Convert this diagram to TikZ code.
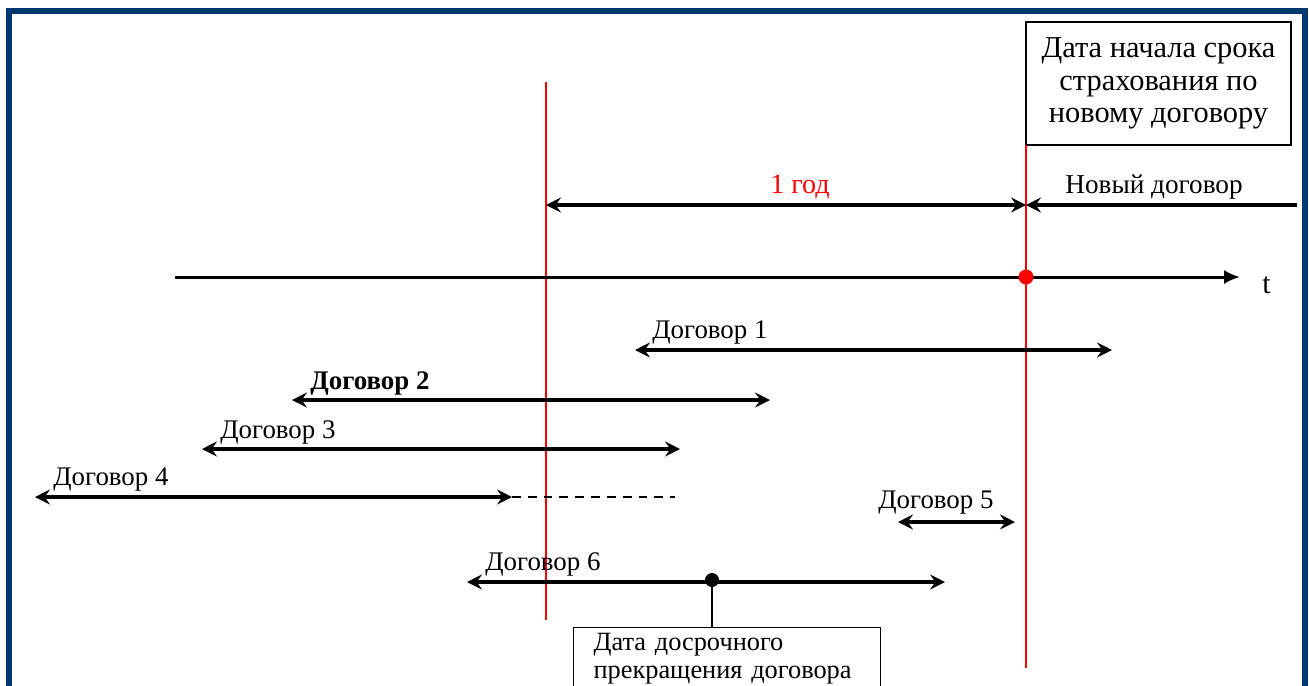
\documentclass[tikz,border=0pt]{standalone}
\usepackage{fontspec}
\setmainfont{Liberation Serif}
\usetikzlibrary{arrows.meta}
\definecolor{ramka}{RGB}{0,56,112}
\tikzset{
  nak/.tip={Stealth[length=8.5pt,width=8.5pt,inset=3pt]},
  dvup/.style={nak-nak,line width=1.9pt},
  odin/.style={-nak,line width=1.9pt},
  metka/.style={anchor=base west,inner sep=0pt,font=\fontsize{15.3}{18}\selectfont},
  granica/.style={red,line width=1.1pt}
}
\begin{document}
\begin{tikzpicture}[font=\fontsize{15.5}{18}\selectfont]
  \useasboundingbox (0,0) rectangle (26.18,-13.7);
  \draw[ramka,line width=3.4pt] (0.18,-0.22) rectangle (26.1,-14.5);

  % ramki s podpisyami
  \node[draw,line width=0.9pt,minimum width=5.3cm,minimum height=2.46cm,align=center,
    font=\fontsize{17.3}{18.4}\selectfont] (nachalo) at (23.17,-1.67)
    {Дата начала срока\\страхования по\\новому договору};
  \node[draw,line width=0.6pt,anchor=north west,minimum width=6.14cm,
    text width=5.34cm,align=left,inner xsep=0.4cm,inner ysep=3.5pt,
    font=\fontsize{15}{15.4}\selectfont] (dosr) at (11.46,-12.54)
    {Дата досрочного\\прекращения договора\\\mbox{}};

  % krasnye granicy
  \coordinate (g1v) at (10.92,-1.64);
  \coordinate (g1n) at (10.92,-12.4);
  \coordinate (g2v) at (20.52,-2.9);
  \coordinate (g2n) at (20.52,-13.36);
  \draw[granica] (g1v) -- (g1n);
  \draw[granica,line width=1.6pt] (g2v) -- (g2n);

  % os vremeni
  \coordinate (os0) at (3.5,-5.54);
  \coordinate (os1) at (24.8,-5.54);
  \draw[-{Latex[length=9pt,width=8pt]},line width=1.7pt] (os0) -- (os1);
  \node[anchor=base west,inner sep=0pt,font=\fontsize{17}{20}\selectfont] (tt) at (25.24,-5.86) {t};
  \fill[red] (20.52,-5.54) circle (0.15) coordinate (start);

  % 1 god i novyj dogovor
  \coordinate (g0) at (10.92,-4.1);
  \coordinate (g1) at (20.52,-4.1);
  \coordinate (nd) at (25.94,-4.1);
  \draw[dvup] (g0) -- (g1);
  \draw[odin] (nd) -- (g1);
  \node[anchor=base,inner sep=0pt,text=red,font=\fontsize{16}{18}\selectfont] (god) at (16.0,-3.86) {1 год};
  \node[metka,font=\fontsize{15.5}{18}\selectfont] (novyj) at (21.3,-3.86) {Новый договор};

  % dogovory
  \coordinate (d1a) at (12.7,-7.0);   \coordinate (d1b) at (22.24,-7.0);
  \coordinate (d2a) at (5.84,-8.0);   \coordinate (d2b) at (15.4,-8.0);
  \coordinate (d3a) at (4.04,-8.98);  \coordinate (d3b) at (13.6,-8.98);
  \coordinate (d4a) at (0.7,-9.94);   \coordinate (d4b) at (10.24,-9.94);
  \coordinate (d4c) at (13.5,-9.94);
  \coordinate (d5a) at (17.96,-10.44); \coordinate (d5b) at (20.3,-10.44);
  \coordinate (d6a) at (9.34,-11.64); \coordinate (d6b) at (18.9,-11.64);
  \draw[dvup] (d1a) -- (d1b);
  \draw[dvup] (d2a) -- (d2b);
  \draw[dvup] (d3a) -- (d3b);
  \draw[dvup] (d4a) -- (d4b);
  \draw[line width=1.1pt,dash pattern=on 5pt off 4pt] (d4b) -- (d4c);
  \draw[dvup] (d5a) -- (d5b);
  \draw[dvup] (d6a) -- (d6b);
  \node[metka] (n1) at (13.04,-6.76) {Договор 1};
  \node[metka,font=\fontsize{15.3}{18}\selectfont\bfseries] (n2) at (6.2,-7.78) {Договор 2};
  \node[metka] (n3) at (4.4,-8.76) {Договор 3};
  \node[metka] (n4) at (1.06,-9.7) {Договор 4};
  \node[metka] (n5) at (17.56,-10.16) {Договор 5};
  \node[metka] (n6) at (9.7,-11.4) {Договор 6};

  % tochka dosrochnogo prekrashcheniya
  \fill (14.24,-11.6) circle (0.14) coordinate (stop);
  \draw[line width=1.5pt] (stop) -- (stop |- dosr.north);
\end{tikzpicture}
\end{document}
